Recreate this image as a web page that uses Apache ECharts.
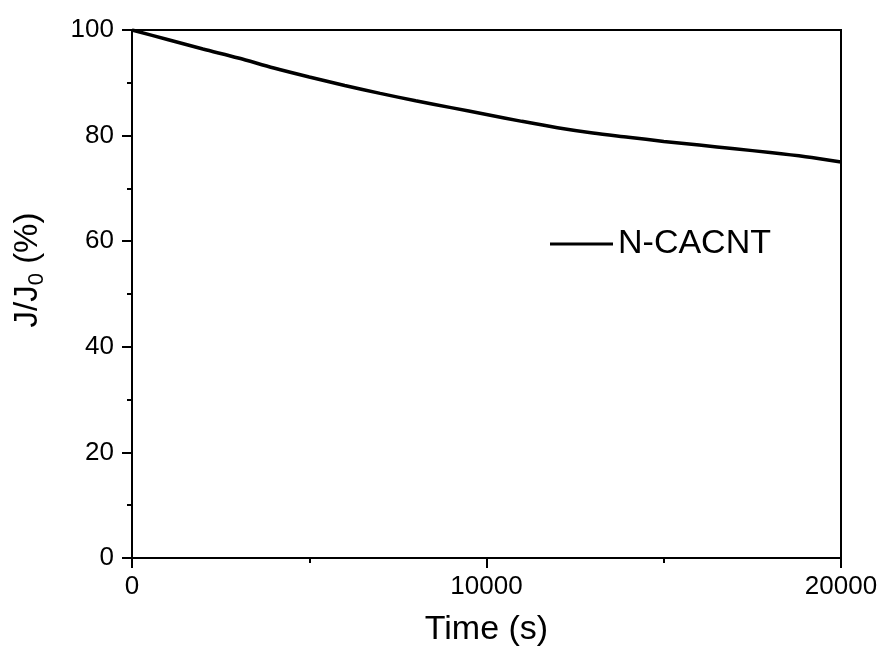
<!DOCTYPE html>
<html>
<head>
<meta charset="utf-8">
<script src="https://cdn.jsdelivr.net/npm/echarts@6/dist/echarts.min.js"></script>
<style>html,body{margin:0;padding:0;background:#fff;}#c{width:882px;height:652px;}</style>
</head>
<body>
<div id="c"></div>
<script>
var timeSec = [0,1000,2000,3000,4000,5000,6000,7000,8000,9000,10000,11000,12000,13000,14000,15000,16000,17000,18000,19000,20000];
var ratio = [100,98.2,96.4,94.7,92.8,91.1,89.5,88.0,86.6,85.3,84.0,82.7,81.5,80.5,79.7,78.9,78.2,77.5,76.8,76.0,75.0];
var seriesName = 'N-CACNT';
var xTicks = [0,10000,20000];
var yTicks = [0,20,40,60,80,100];

var font = 'Liberation Sans, Arial, sans-serif';
var chart = echarts.init(document.getElementById('c'));
var data = timeSec.map(function(t,i){return [t, ratio[i]];});
chart.setOption({
  animation:false,
  backgroundColor:'#fff',
  grid:{left:132,right:41,top:30,bottom:94,show:true,borderColor:'#000',borderWidth:2,backgroundColor:'transparent'},
  legend:{data:[seriesName],left:550,top:227,padding:0,itemWidth:63,itemHeight:14,itemGap:10,
    textStyle:{fontFamily:font,fontSize:34,color:'#000'},icon:'path://M0,6 L63,6 L63,9 L0,9 Z',itemStyle:{color:'#000'}},
  xAxis:{type:'value',min:xTicks[0],max:xTicks[xTicks.length-1],interval:10000,
    name:'Time (s)',nameLocation:'middle',nameGap:55,
    nameTextStyle:{fontFamily:font,fontSize:34,color:'#000'},
    axisLine:{show:true,lineStyle:{color:'#000',width:2}},
    axisTick:{show:true,inside:false,length:10,lineStyle:{color:'#000',width:2}},
    minorTick:{show:true,splitNumber:2,length:5,lineStyle:{color:'#000',width:2}},
    axisLabel:{fontFamily:font,fontSize:26,color:'#000',margin:16,formatter:function(v){return String(v);}},
    splitLine:{show:false}},
  yAxis:{type:'value',min:yTicks[0],max:yTicks[yTicks.length-1],interval:20,
    name:'{a|J/J}{s|0}{a| (%)}',nameLocation:'middle',nameGap:84,
    nameTextStyle:{fontFamily:font,fontSize:33,color:'#000',padding:[0,0,0,48],
      rich:{a:{fontFamily:font,fontSize:33,color:'#000'},s:{fontFamily:font,fontSize:22,color:'#000',padding:[18,0,0,0]}}},
    axisLine:{show:true,lineStyle:{color:'#000',width:2}},
    axisTick:{show:true,inside:false,length:10,lineStyle:{color:'#000',width:2}},
    minorTick:{show:true,splitNumber:2,length:5,lineStyle:{color:'#000',width:2}},
    axisLabel:{fontFamily:font,fontSize:26,color:'#000',margin:18},
    splitLine:{show:false}},
  series:[{name:seriesName,type:'line',data:data,smooth:0.3,symbol:'none',
    lineStyle:{color:'#000',width:3.5},itemStyle:{color:'#000'}}]
});
</script>
</body>
</html>
